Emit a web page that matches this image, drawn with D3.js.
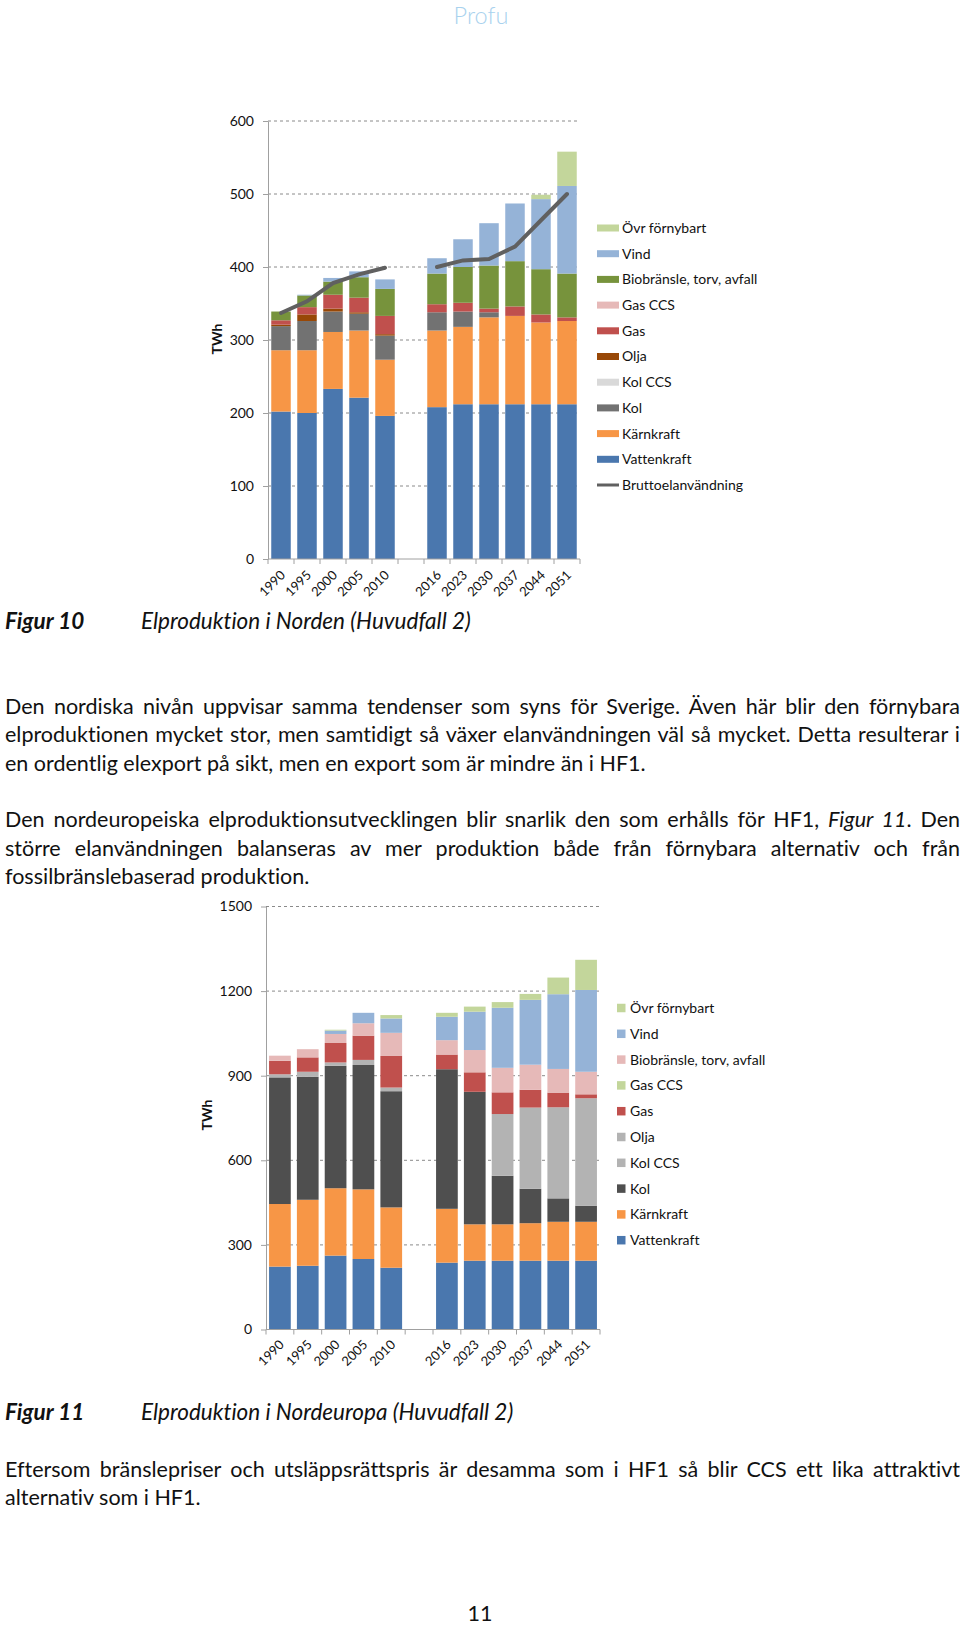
<!DOCTYPE html>
<html><head><meta charset="utf-8">
<script src="https://cdn.jsdelivr.net/npm/d3@7"></script>
<style>body{margin:0;background:#fff}svg{display:block}text{font-family:Lato,"Open Sans",sans-serif;font-variant-ligatures:none}</style>
</head><body>
<svg id="page" width="960" height="1625"></svg>
<script>
// ---------- DATA ----------
const categories = ["1990","1995","2000","2005","2010","","2016","2023","2030","2037","2044","2051"];
const seriesNames = ["Vattenkraft","Kärnkraft","Kol","Kol CCS","Olja","Gas","Gas CCS","Biobränsle, torv, avfall","Vind","Övr förnybart"];

// Figur 10 – Elproduktion i Norden (TWh)
const n_vatten = [202, 200, 233, 221, 196, null, 208, 212, 212, 212, 212, 212];
const n_karn   = [84, 86, 78, 92, 77, null, 105, 106, 119, 121, 112, 114];
const n_kol    = [33, 40, 28, 23, 33, null, 25, 21, 7, 0, 0, 0];
const n_kolccs = [0, 0, 0, 0, 0, null, 0, 0, 0, 0, 0, 0];
const n_olja   = [2, 9, 4, 2, 2, null, 0, 0, 0, 0, 0, 0];
const n_gas    = [6, 10, 19, 20, 25, null, 11, 12, 5, 13, 11, 5];
const n_gasccs = [0, 0, 0, 0, 0, null, 0, 0, 0, 0, 0, 0];
const n_bio    = [12, 16, 18, 28, 37, null, 42, 49, 59, 62, 62, 60];
const n_vind   = [0, 1, 5, 8, 13, null, 21, 38, 58, 79, 96, 120];
const n_ovr    = [0, 0, 0, 0, 0, null, 0, 0, 0, 0, 6, 47];
const n_brutto = [337, 353, 378, 390, 399, null, 400, 409, 411, 428, 464, 500];

// Figur 11 – Elproduktion i Nordeuropa (TWh)
const e_vatten = [223, 226, 262, 250, 219, null, 237, 244, 244, 244, 244, 244];
const e_karn   = [222, 234, 239, 247, 214, null, 191, 129, 129, 133, 138, 138];
const e_kol    = [449, 436, 434, 441, 412, null, 495, 470, 172, 122, 83, 57];
const e_kolccs = [0, 0, 0, 0, 0, null, 0, 0, 219, 288, 323, 381];
const e_olja   = [11, 18, 12, 18, 13, null, 0, 0, 0, 0, 0, 0];
const e_gas    = [48, 51, 69, 86, 112, null, 52, 69, 77, 63, 52, 14];
const e_gasccs = [0, 0, 0, 0, 0, null, 0, 0, 0, 0, 0, 0];
const e_bio    = [18, 29, 32, 44, 82, null, 51, 79, 87, 89, 84, 80];
const e_vind   = [0, 0, 12, 37, 51, null, 83, 136, 213, 230, 265, 290];
const e_ovr    = [0, 0, 3, 0, 12, null, 14, 18, 20, 21, 59, 107];

const yTicksTop = [0, 100, 200, 300, 400, 500, 600];
const yTicksBottom = [0, 300, 600, 900, 1200, 1500];

const colorsTop = ["#4a77ae","#f79646","#727272","#d9d9d9","#984807","#c0504d","#e6b9b8","#77933c","#95b3d7","#c3d69b"];
const colorsBottom = ["#4a77ae","#f79646","#4f4f4f","#b3b3b3","#b3b3b3","#c0504d","#c3d69b","#e6b9b8","#95b3d7","#c3d69b"];

// ---------- DRAW ----------
const svg = d3.select("#page");

function drawChart(o){
  const g = svg.append("g");
  const n = categories.length;
  const x = d3.scaleBand().domain(d3.range(n)).range([o.x0, o.x1]).paddingInner(o.pad).paddingOuter(o.pad/2);
  const y = d3.scaleLinear().domain([0, o.max]).range([o.yb, o.yt]);
  const bw = x.bandwidth();
  const half = (x.step() - bw) / 2;

  // grid
  g.append("g").selectAll("line").data(o.ticks.filter(t => t > 0)).join("line")
    .attr("x1", o.x0).attr("x2", o.x1).attr("y1", d => y(d)).attr("y2", d => y(d))
    .attr("stroke", "#8a8a8a").attr("stroke-width", 1).attr("stroke-dasharray", "3,3");

  // bars
  const rows = categories.map((c, i) => ({i, vals: o.series.map(s => s[i])}));
  const stack = d3.stack().keys(d3.range(o.series.length)).value((d, k) => d.vals[k] ?? 0);
  const layers = stack(rows);
  g.append("g").selectAll("g").data(layers).join("g")
    .attr("fill", (d, k) => o.colors[k])
    .selectAll("rect").data(d => d.filter(v => v[1] - v[0] > 0)).join("rect")
    .attr("x", d => x(d.data.i)).attr("width", bw)
    .attr("y", d => y(d[1])).attr("height", d => y(d[0]) - y(d[1]));

  // y axis
  const ya = g.append("g").attr("transform", `translate(${o.x0},0)`)
    .call(d3.axisLeft(y).tickValues(o.ticks).tickFormat(d3.format("d")).tickSize(5).tickSizeOuter(0).tickPadding(9));
  ya.select(".domain").attr("stroke", "#a0a0a0");
  ya.selectAll(".tick line").attr("stroke", "#a0a0a0");
  ya.selectAll(".tick text").attr("font-family", "Lato").attr("font-size", 14).attr("fill", "#111");

  // x axis
  const xa = g.append("g");
  xa.append("line").attr("x1", o.x0).attr("x2", o.x1).attr("y1", o.yb).attr("y2", o.yb).attr("stroke", "#a0a0a0");
  xa.selectAll("line.t").data(d3.range(n + 1)).join("line").attr("class", "t")
    .attr("x1", i => (i < n ? x(i) - half : x(n - 1) + bw + half))
    .attr("x2", i => (i < n ? x(i) - half : x(n - 1) + bw + half))
    .attr("y1", o.yb).attr("y2", o.yb + 5).attr("stroke", "#a0a0a0");
  xa.selectAll("text").data(categories.map((c, i) => ({c, i})).filter(d => d.c !== "")).join("text")
    .attr("transform", d => `translate(${x(d.i) + bw / 2 + 5},${o.yb + o.lblDy}) rotate(-45)`)
    .attr("text-anchor", "end").attr("font-size", 13).attr("fill", "#111").text(d => d.c);

  // y title
  g.append("text").attr("transform", `translate(${o.titleX},${o.titleY}) rotate(-90)`)
    .attr("text-anchor", "middle").attr("font-size", 14).attr("font-weight", "bold").attr("fill", "#111").text("TWh");

  // line
  if (o.line) {
    const ln = d3.line().defined(d => d != null).x((d, i) => x(i) + bw / 2).y(d => y(d));
    g.append("path").datum(o.line).attr("d", ln).attr("fill", "none")
      .attr("stroke", "#606060").attr("stroke-width", 4).attr("stroke-linecap", "round");
  }

  // legend
  const items = seriesNames.map((s, k) => ({s, c: o.colors[k]})).reverse();
  if (o.line) items.push({s: "Bruttoelanvändning", line: true});
  const lg = g.append("g");
  items.forEach((it, j) => {
    const cy = o.legY + j * o.legStep;
    if (it.line) {
      lg.append("line").attr("x1", o.legX).attr("x2", o.legX + o.swW).attr("y1", cy).attr("y2", cy)
        .attr("stroke", "#606060").attr("stroke-width", 3);
    } else {
      lg.append("rect").attr("x", o.legX).attr("y", cy - o.swH / 2).attr("width", o.swW).attr("height", o.swH).attr("fill", it.c);
    }
    lg.append("text").attr("x", o.legTX).attr("y", cy).attr("dy", "0.35em")
      .attr("font-size", 14).attr("fill", "#111").text(it.s);
  });
}

drawChart({
  x0: 268, x1: 580, yb: 559, yt: 121, max: 600, pad: 0.25, ticks: yTicksTop,
  series: [n_vatten, n_karn, n_kol, n_kolccs, n_olja, n_gas, n_gasccs, n_bio, n_vind, n_ovr],
  colors: colorsTop, line: n_brutto, titleX: 222, titleY: 339, lblDy: 17,
  legX: 597, legTX: 622, legY: 228, legStep: 25.7, swW: 22, swH: 7
});

drawChart({
  x0: 266, x1: 600, yb: 1329.5, yt: 906.5, max: 1500, pad: 0.22, ticks: yTicksBottom,
  series: [e_vatten, e_karn, e_kol, e_kolccs, e_olja, e_gas, e_gasccs, e_bio, e_vind, e_ovr],
  colors: colorsBottom, line: null, titleX: 212, titleY: 1115, lblDy: 16,
  legX: 617, legTX: 630, legY: 1008, legStep: 25.8, swW: 8.5, swH: 8.5
});

// ---------- TEXT ----------
const FS = 21.5;
function textLine(x, y, parts, jw, fs) {
  const t = svg.append("text").attr("x", x).attr("y", y).attr("font-size", fs || FS).attr("fill", "#111")
    .style("white-space", "pre");
  parts.forEach(p => {
    const ts = t.append("tspan").text(p.t);
    if (p.i) ts.attr("font-style", "italic");
    if (p.b) ts.attr("font-weight", "bold");
  });
  if (jw) {
    const w = t.node().getComputedTextLength();
    const txt = parts.map(p => p.t).join("");
    const sp = (txt.match(/ /g) || []).length;
    if (sp > 0) t.attr("word-spacing", (jw - w) / sp);
  }
  return t;
}
const L = 5, W = 955;

svg.append("text").attr("x", 481).attr("y", 24).attr("text-anchor", "middle").attr("font-size", 23.5)
  .attr("font-weight", 300).attr("fill", "#a9d2ee").text("Profu");

textLine(L, 629, [{t: "Figur 10", b: true, i: true}], null, 22.5);
textLine(141, 629, [{t: "Elproduktion i Norden (Huvudfall 2)", i: true}], null, 22.5);

textLine(L, 714, [{t: "Den nordiska nivån uppvisar samma tendenser som syns för Sverige. Även här blir den förnybara"}], W);
textLine(L, 742, [{t: "elproduktionen mycket stor, men samtidigt så växer elanvändningen väl så mycket. Detta resulterar i"}], W);
textLine(L, 771, [{t: "en ordentlig elexport på sikt, men en export som är mindre än i HF1."}]);

textLine(L, 827, [{t: "Den nordeuropeiska elproduktionsutvecklingen blir snarlik den som erhålls för HF1, "}, {t: "Figur 11", i: true}, {t: ". Den"}], W);
textLine(L, 856, [{t: "större elanvändningen balanseras av mer produktion både från förnybara alternativ och från"}], W);
textLine(L, 884, [{t: "fossilbränslebaserad produktion."}]);

textLine(L, 1420, [{t: "Figur 11", b: true, i: true}], null, 22.5);
textLine(141, 1420, [{t: "Elproduktion i Nordeuropa (Huvudfall 2)", i: true}], null, 22.5);

textLine(L, 1477, [{t: "Eftersom bränslepriser och utsläppsrättspris är desamma som i HF1 så blir CCS ett lika attraktivt"}], W);
textLine(L, 1505, [{t: "alternativ som i HF1."}]);

svg.append("text").attr("x", 480).attr("y", 1621).attr("text-anchor", "middle").attr("font-size", FS)
  .attr("fill", "#111").text("11");
</script>
</body></html>
